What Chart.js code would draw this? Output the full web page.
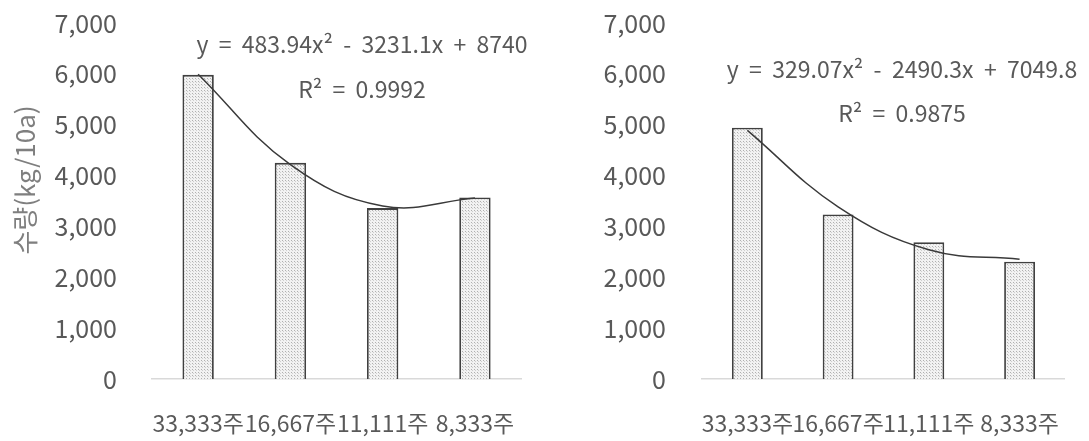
<!DOCTYPE html>
<html><head><meta charset="utf-8">
<script src="https://cdn.jsdelivr.net/npm/chart.js@4.4.1/dist/chart.umd.min.js"></script>
<style>
html,body{margin:0;padding:0;background:#fff;width:1089px;height:441px;overflow:hidden}
canvas{position:absolute;top:0}
#c1{left:0}
#c2{left:545px}
</style></head><body>
<canvas id="c1" width="545" height="441"></canvas>
<canvas id="c2" width="544" height="441"></canvas>
<script>
const categories = ['33,333주', '16,667주', '11,111주', '8,333주'];
const leftValues = [5980, 4250, 3360, 3570];
const rightValues = [4940, 3235, 2690, 2305];
const leftTrend = [5993, 4214, 3402, 3559];
const rightTrend = [4889, 3386, 2541, 2354];
const leftEquation = ['y  =  483.94x²  -  3231.1x  +  8740', 'R²  =  0.9992'];
const rightEquation = ['y  =  329.07x²  -  2490.3x  +  7049.8', 'R²  =  0.9875'];
const yTitle = '수량(kg/10a)';
const yMax = 7000, yStep = 1000;

const FONT = "'Noto Sans CJK KR', 'Noto Sans', sans-serif";
const GRAY = '#595959';

function makePattern() {
  const p = document.createElement('canvas');
  p.width = 3; p.height = 3;
  const c = p.getContext('2d');
  c.fillStyle = '#f2f2f2'; c.fillRect(0, 0, 3, 3);
  c.fillStyle = '#b0b0b0'; c.fillRect(0, 0, 1, 1);
  c.fillStyle = '#cfcfcf'; c.fillRect(1, 1, 1, 1);
  return document.getElementById('c1').getContext('2d').createPattern(p, 'repeat');
}
const pattern = makePattern();

function textPlugin(lines, pos, title) {
  return {
    id: 'txt',
    afterDraw(chart) {
      const ctx = chart.ctx;
      ctx.save();
      ctx.fillStyle = GRAY;
      ctx.font = "23px " + FONT;
      ctx.textAlign = 'center';
      ctx.textBaseline = 'middle';
      ctx.fillText(lines[0], pos[0][0], pos[0][1]);
      ctx.fillText(lines[1], pos[1][0], pos[1][1]);
      if (title) {
        ctx.translate(title[0], title[1]);
        ctx.rotate(-Math.PI / 2);
        ctx.fillStyle = '#7f7f7f';
        ctx.font = "26px " + FONT;
        ctx.fillText(yTitle, 0, 0);
      }
      ctx.restore();
    }
  };
}

function build(id, values, trend, yWidth, tickPad, padRight, plugin) {
  return new Chart(document.getElementById(id), {
    type: 'bar',
    data: {
      labels: categories,
      datasets: [
        {
          type: 'line', data: trend, borderColor: '#3a3a3a', borderWidth: 1.5,
          pointRadius: 0, tension: 0.4, fill: false, order: 0
        },
        {
          data: values, backgroundColor: pattern, borderColor: '#404040',
          borderWidth: 1.8, borderSkipped: 'bottom',
          categoryPercentage: 1, barPercentage: 0.34, order: 1
        }
      ]
    },
    options: {
      responsive: false, animation: false, devicePixelRatio: 1,
      layout: { padding: { top: 0, right: padRight, bottom: 0, left: 0 } },
      plugins: { legend: { display: false }, tooltip: { enabled: false } },
      scales: {
        x: {
          grid: { display: false, drawTicks: false },
          border: { display: true, color: '#d9d9d9', width: 1.5 },
          ticks: { color: GRAY, font: { family: FONT, size: 23 }, padding: 30, maxRotation: 0, autoSkip: false },
          afterFit(s) { s.height = 62; }
        },
        y: {
          min: 0, max: yMax,
          grid: { display: false, drawTicks: false },
          border: { display: false },
          ticks: { stepSize: yStep, color: GRAY, font: { family: FONT, size: 25 }, padding: tickPad,
            callback: v => v.toLocaleString('en-US') },
          afterFit(s) { s.width = yWidth; s.paddingTop = 23; s.paddingBottom = 0; }
        }
      }
    },
    plugins: [plugin]
  });
}

build('c1', leftValues, leftTrend, 152, 35, 6,
  textPlugin(leftEquation, [[362, 44], [362, 89]], [25, 180]));
build('c2', rightValues, rightTrend, 157, 36, 1,
  textPlugin(rightEquation, [[357, 69], [357, 113]], null));
</script>
</body></html>
